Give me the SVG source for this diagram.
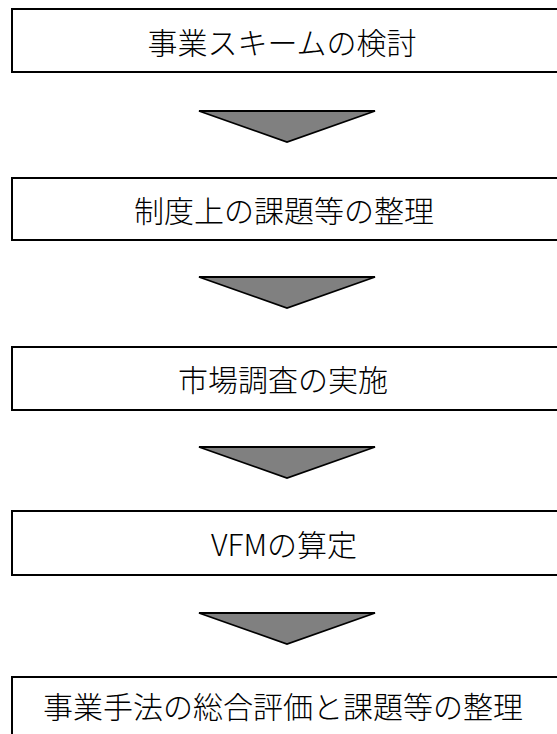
<svg xmlns="http://www.w3.org/2000/svg" width="557" height="734" viewBox="0 0 557 734">
<style>
.box{fill:#fff;stroke:#000;stroke-width:2}
.lbl{font-family:"Noto Sans CJK JP","Noto Sans",sans-serif;font-size:30px;font-weight:300;fill:#000;text-anchor:middle;dominant-baseline:central}
.arr{fill:#808080;stroke:#000;stroke-width:1.8;stroke-linejoin:miter}
</style>
<rect width="557" height="734" fill="#fff"/>
<g id="n1"><rect class="box" x="12" y="9" width="560" height="63"/><text class="lbl" x="282" y="41">事業スキームの検討</text></g>
<g id="n2"><rect class="box" x="12" y="178" width="560" height="62"/><text class="lbl" x="284" y="209">制度上の課題等の整理</text></g>
<g id="n3"><rect class="box" x="12" y="347" width="560" height="63"/><text class="lbl" x="283" y="378">市場調査の実施</text></g>
<g id="n4"><rect class="box" x="12" y="511" width="560" height="64"/><text class="lbl" x="284" y="543">VFMの算定</text></g>
<g id="n5"><rect class="box" x="12" y="677" width="560" height="70"/><text class="lbl" x="283" y="705">事業手法の総合評価と課題等の整理</text></g>
<g id="connectors">
<polygon class="arr" points="199,111 375,111 287,142"/>
<polygon class="arr" points="199,277 375,277 287,308"/>
<polygon class="arr" points="199,447 375,447 287,478"/>
<polygon class="arr" points="199,613 375,613 287,644"/>
</g>
</svg>
